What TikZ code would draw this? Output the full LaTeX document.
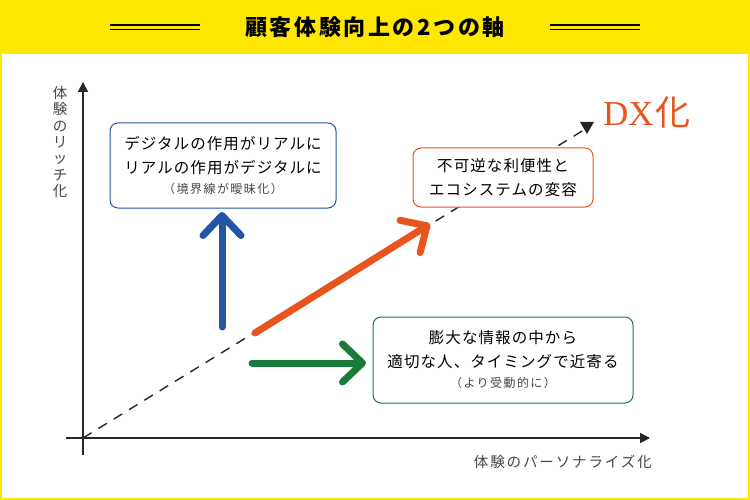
\documentclass[tikz,border=0pt]{standalone}
\usepackage{fontspec}
\setmainfont{Noto Sans CJK JP}
\newfontfamily\titlefont{Noto Sans CJK JP}[LetterSpace=12]
\newfontfamily\boxfont{Noto Sans CJK JP}[LetterSpace=7]
\newfontfamily\subfont{Noto Sans CJK JP}[LetterSpace=12]
\newfontfamily\lblfont{Noto Sans CJK JP}[LetterSpace=13]
\newfontfamily\dxfont{Liberation Serif}
\newfontfamily\kanjifont{Noto Sans CJK JP}
\usetikzlibrary{positioning,arrows.meta}
\definecolor{dxyellow}{RGB}{255,232,0}
\definecolor{dxblue}{RGB}{36,84,164}
\definecolor{dxorange}{RGB}{232,84,30}
\definecolor{dxgreen}{RGB}{26,122,58}
\definecolor{axisgray}{RGB}{70,70,70}

\begin{document}
\begin{tikzpicture}[
  x=1pt,y=-1pt,
  box/.style={draw,rounded corners=8pt,line width=1pt,fill=white,align=center,
              inner sep=0pt,font=\boxfont\fontsize{15.5}{24}\selectfont},
  axis/.style={line width=1.6pt,black!85,-{Triangle[length=10pt,width=10pt]}},
  bigarrow/.style={line width=7pt,line cap=round,
                   -{Straight Barb[length=20pt,width=38pt,round]}},
  lbl/.style={font=\lblfont\fontsize{14.5}{16.3}\selectfont,text=axisgray,inner sep=0pt}
]
% frame
\useasboundingbox (0,0) rectangle (750,500);
\fill[dxyellow] (0,0) rectangle (750,500);
\fill[white] (2,54) rectangle (748,498);
% title
\node[font=\titlefont\bfseries\fontsize{22}{24}\selectfont] (title) at (375,27) {顧客体験向上の2つの軸};
\draw[line width=1.2pt] (110,25) -- (200,25) (110,29.5) -- (200,29.5);
\draw[line width=1.2pt] (550,25) -- (640,25) (550,29.5) -- (640,29.5);
% axes
\coordinate (O) at (83,438);
\coordinate (ybot) at (83,455);
\coordinate (ytop) at (83,82);
\coordinate (xleft) at (66,438);
\coordinate (xright) at (650,438);
\draw[axis] (ybot) -- (ytop);
\draw[axis] (xleft) -- (xright);
\node[lbl,align=center,text width=15pt] (ylbl) at (60,142)
  {体\\験\\の\\リ\\ッ\\チ\\化};
\node[lbl,anchor=east] (xlbl) at (652,462) {体験のパーソナライズ化};
% DX diagonal
\coordinate (dxend) at (587,128);
\draw[line width=1.4pt,black!85,dash pattern=on 10pt off 8pt] (O) -- (dxend);
\fill[black!85] ([shift={(-7,-6)}]dxend) -- ([shift={(7,-6)}]dxend) -- ([shift={(0,6)}]dxend) -- cycle;
\node[text=dxorange,inner sep=0pt] (dx) at (647,112)
  {\dxfont\fontsize{35}{36}\selectfont DX\hspace{2pt}\kanjifont 化};
% boxes
\node[box,draw=dxblue,minimum width=226pt,minimum height=85pt] (real) at (223,165.5)
  {デジタルの作用がリアルに\\リアルの作用がデジタルに\\[-4pt]
   {\subfont\fontsize{12}{14}\selectfont\color{axisgray}（境界線が曖昧化）}};
\node[box,draw=dxorange,minimum width=180pt,minimum height=59pt] (eco) at (503,177.5)
  {不可逆な利便性と\\エコシステムの変容};
\node[box,draw=dxgreen,minimum width=260pt,minimum height=86pt] (pers) at (503,360)
  {膨大な情報の中から\\適切な人、タイミングで近寄る\\[-4pt]
   {\subfont\fontsize{12}{14}\selectfont\color{axisgray}（より受動的に）}};
% arrows
\coordinate (bs) at (222,327);  \coordinate (be) at (222,212);
\coordinate (os) at (255,333);  \coordinate (oe) at (430,224);
\coordinate (gs) at (252,363);  \coordinate (ge) at (366,363);
\draw[bigarrow,dxblue] (bs) -- (be);
\draw[bigarrow,dxorange] (os) -- (oe);
\draw[bigarrow,dxgreen] (gs) -- (ge);
\end{tikzpicture}
\end{document}
